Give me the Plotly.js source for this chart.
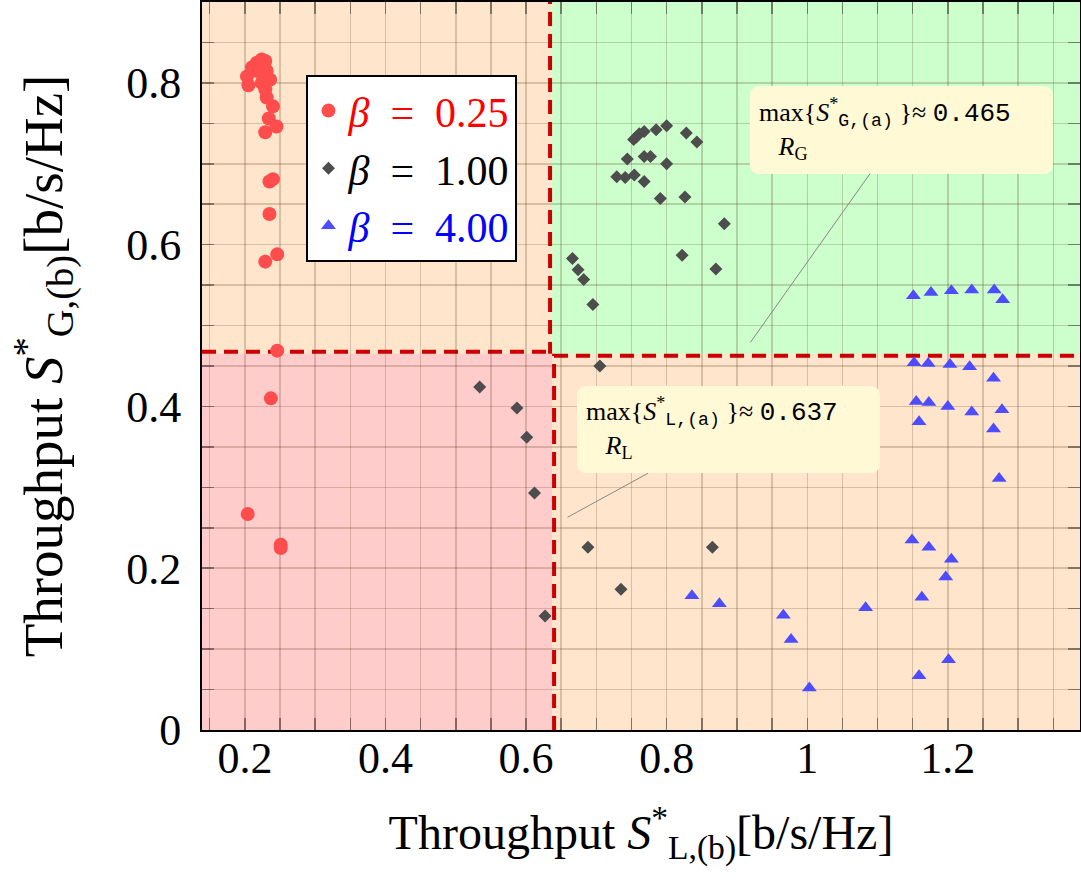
<!DOCTYPE html>
<html>
<head>
<meta charset="utf-8">
<script src="https://cdn.plot.ly/plotly-3.0.1.min.js"></script>
<style>
  html, body { margin: 0; padding: 0; background: #fff; }
  #chart { width: 1081px; height: 888px; }
</style>
</head>
<body>
<div id="chart"></div>
<script>
// beta = 0.25
var lowX = [0.203, 0.205, 0.210, 0.217, 0.224, 0.229, 0.217, 0.224, 0.226, 0.231, 0.236, 0.229, 0.231, 0.240,
  0.234, 0.245, 0.229, 0.235, 0.240, 0.235, 0.246, 0.229, 0.246, 0.237, 0.204, 0.251, 0.251];
var lowY = [0.808, 0.797, 0.819, 0.825, 0.829, 0.827, 0.815, 0.800, 0.808, 0.815, 0.804, 0.792, 0.782, 0.771,
  0.756, 0.746, 0.739, 0.678, 0.681, 0.638, 0.588, 0.579, 0.469, 0.410, 0.267, 0.229, 0.225];

// beta = 1.00
var midX = [0.800, 0.785, 0.768, 0.761, 0.757, 0.753, 0.828, 0.843, 0.744, 0.768, 0.777, 0.800, 0.729, 0.741,
  0.754, 0.768, 0.791, 0.826, 0.882, 0.822, 0.870, 0.666, 0.674, 0.682, 0.695, 0.705, 0.688, 0.865, 0.735,
  0.534, 0.587, 0.601, 0.612, 0.627];
var midY = [0.747, 0.742, 0.740, 0.737, 0.733, 0.730, 0.738, 0.727, 0.706, 0.709, 0.709, 0.700, 0.684, 0.683,
  0.686, 0.678, 0.657, 0.659, 0.626, 0.587, 0.570, 0.583, 0.569, 0.557, 0.526, 0.450, 0.226, 0.226, 0.174,
  0.424, 0.398, 0.362, 0.293, 0.141];

// beta = 4.00
var highX = [1.151, 1.176, 1.205, 1.234, 1.266, 1.278, 1.152, 1.172, 1.203, 1.231, 1.265, 1.155, 1.173, 1.200,
  1.234, 1.277, 1.159, 1.265, 1.273, 1.149, 1.173, 1.205, 1.197, 1.163, 1.083, 0.836, 0.875, 0.966, 0.977,
  1.201, 1.159, 1.003];
var highY = [0.537, 0.541, 0.543, 0.544, 0.544, 0.532, 0.454, 0.453, 0.452, 0.449, 0.435, 0.406, 0.405, 0.400,
  0.393, 0.396, 0.381, 0.372, 0.311, 0.235, 0.226, 0.211, 0.189, 0.164, 0.151, 0.166, 0.156, 0.142, 0.112,
  0.087, 0.067, 0.052];

// thresholds from scenario (a)
var maxL = 0.637;
var maxG = 0.465;

var serif = 'Liberation Serif, DejaVu Serif, serif';
var boxFill = '#fff9d6';

function legendName(val, color) {
  return '<span style="color:' + color + '"><i>β</i>  =  ' + val + '</span>';
}

var trace1 = {
  x: lowX, y: lowY,
  name: legendName('0.25', '#ff0000'),
  type: 'scatter', mode: 'markers',
  marker: { symbol: 'circle', size: 14, color: 'rgb(255,77,77)' }
};
var trace2 = {
  x: midX, y: midY,
  name: legendName('1.00', '#000000'),
  type: 'scatter', mode: 'markers',
  marker: { symbol: 'diamond', size: 10, color: 'rgb(77,77,77)' }
};
var trace3 = {
  x: highX, y: highY,
  name: legendName('4.00', '#0000ff'),
  type: 'scatter', mode: 'markers',
  marker: { symbol: 'triangle-up', size: 13, color: 'rgb(77,77,255)' }
};

var gridCol = 'rgba(70,35,0,0.2)';
var tickCol = 'rgba(0,0,0,0.4)';

function boxText(sub, val) {
  return 'max{<i>S</i><sup>*</sup><sub><span style="font-family:Liberation Mono">' + sub +
    '</span></sub> }≈ <span style="font-family:Liberation Mono">' + val.toFixed(3) + '</span><br>' +
    '   <i>R</i><sub>' + sub.charAt(0) + '</sub>';
}
function axisTitle(sub) {
  return 'Throughput <i>S</i><sup>*</sup><sub>' + sub + '</sub>[b/s/Hz]';
}

// rounded box behind an annotation, in paper coordinates
function roundBox(x0, x1, y0, y1) {
  var rx = 0.012, ry = 0.0145;
  var p = 'M' + (x0 + rx) + ',' + y1 +
    ' L' + (x1 - rx) + ',' + y1 + ' Q' + x1 + ',' + y1 + ' ' + x1 + ',' + (y1 - ry) +
    ' L' + x1 + ',' + (y0 + ry) + ' Q' + x1 + ',' + y0 + ' ' + (x1 - rx) + ',' + y0 +
    ' L' + (x0 + rx) + ',' + y0 + ' Q' + x0 + ',' + y0 + ' ' + x0 + ',' + (y0 + ry) +
    ' L' + x0 + ',' + (y1 - ry) + ' Q' + x0 + ',' + y1 + ' ' + (x0 + rx) + ',' + y1 + ' Z';
  return { type: 'path', xref: 'paper', yref: 'paper', path: p,
    fillcolor: boxFill, line: { width: 0 }, layer: 'above' };
}

var layout = {
  width: 1081, height: 888,
  margin: { l: 202, r: 1, t: 2, b: 158 },
  paper_bgcolor: '#ffffff',
  plot_bgcolor: '#ffe5cc',
  showlegend: true,
  font: { family: serif, color: '#000' },
  xaxis: {
    range: [0.139, 1.388],
    tick0: 0, dtick: 0.2,
    showgrid: true, gridcolor: gridCol, gridwidth: 1.5,
    ticks: 'inside', ticklen: 12, tickcolor: tickCol, tickwidth: 1.5,
    minor: { dtick: 0.05, showgrid: true, gridcolor: gridCol, gridwidth: 1.5,
      ticks: 'inside', ticklen: 12, tickcolor: tickCol, tickwidth: 1.5 },
    showline: true, linecolor: '#000', linewidth: 2, mirror: 'allticks',
    zeroline: false,
    ticklabelstandoff: -12,
    tickfont: { family: serif, size: 44 },
    title: { text: axisTitle('L,(b)'), font: { family: serif, size: 48 }, standoff: 34 }
  },
  yaxis: {
    range: [0, 0.9],
    tick0: 0, dtick: 0.2,
    showgrid: true, gridcolor: gridCol, gridwidth: 1.5,
    ticks: 'inside', ticklen: 12, tickcolor: tickCol, tickwidth: 1.5,
    minor: { dtick: 0.05, showgrid: true, gridcolor: gridCol, gridwidth: 1.5,
      ticks: 'inside', ticklen: 12, tickcolor: tickCol, tickwidth: 1.5 },
    showline: true, linecolor: '#000', linewidth: 2, mirror: 'allticks',
    zeroline: false,
    ticklabelstandoff: 10,
    tickfont: { family: serif, size: 44 },
    title: { text: axisTitle('G,(b)'), font: { family: serif, size: 55 }, standoff: 46 }
  },
  legend: {
    x: 0.119, y: 0.9, xanchor: 'left', yanchor: 'top',
    bgcolor: '#ffffff', bordercolor: '#000', borderwidth: 2,
    font: { family: serif, size: 42 },
    traceorder: 'normal'
  },
  shapes: [
    // regions
    { type: 'rect', xref: 'x', yref: 'y', x0: 0, x1: maxL, y0: -1, y1: maxG,
      fillcolor: '#ffcccc', line: { width: 0 }, layer: 'below' },
    { type: 'rect', xref: 'x', yref: 'y', x0: maxL, x1: 2, y0: maxG, y1: 2,
      fillcolor: '#ccffcc', line: { width: 0 }, layer: 'below' },
    // thresholds
    { type: 'line', xref: 'x', yref: 'paper', x0: maxL, x1: maxL, y0: 0, y1: 1,
      line: { color: '#cc0000', width: 8, dash: '14px,8px' }, layer: 'between' },
    { type: 'line', xref: 'paper', yref: 'y', x0: 0, x1: 1, y0: maxG, y1: maxG,
      line: { color: '#cc0000', width: 8, dash: '14px,8px' }, layer: 'between' },
    // callout boxes
    roundBox(0.6241, 0.9692, 0.7637, 0.8846),
    roundBox(0.4271, 0.7722, 0.3530, 0.4725)
  ],
  annotations: [
    { xref: 'x', yref: 'y', x: 0.919, y: 0.479, ax: 151, ay: -213,
      text: boxText('G,(a)', maxG),
      showarrow: true, arrowhead: 0, arrowwidth: 1, arrowcolor: '#888',
      width: 285, height: 72, borderpad: 8, align: 'left', valign: 'top',
      bgcolor: 'rgba(0,0,0,0)', borderwidth: 0,
      font: { family: serif, size: 26, color: '#000' } },
    { xref: 'x', yref: 'y', x: 0.659, y: 0.263, ax: 161, ay: -88,
      text: boxText('L,(a)', maxL),
      showarrow: true, arrowhead: 0, arrowwidth: 1, arrowcolor: '#888',
      width: 285, height: 72, borderpad: 8, align: 'left', valign: 'top',
      bgcolor: 'rgba(0,0,0,0)', borderwidth: 0,
      font: { family: serif, size: 26, color: '#000' } }
  ]
};

Plotly.newPlot('chart', [trace1, trace2, trace3], layout, { displayModeBar: false, staticPlot: true });
</script>
</body>
</html>
